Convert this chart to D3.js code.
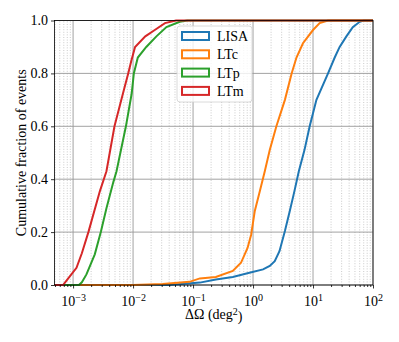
<!DOCTYPE html>
<html>
<head>
<meta charset="utf-8">
<script src="https://cdn.jsdelivr.net/npm/d3@7"></script>
<style>
  body { margin: 0; background: #fff; }
  svg text { font-family: "Liberation Serif", "Times New Roman", serif; }
</style>
</head>
<body>
<script>
let width = 399, height = 342
let margin = {left: 54.5, right: 26, top: 20.5, bottom: 57}

// cumulative fractions
let seriesNames = ['LISA', 'LTc', 'LTp', 'LTm']
let colors = ['#1f77b4', '#ff7f0e', '#2ca02c', '#d62728']

let lisaX = [0.04, 0.13, 0.24, 0.46, 0.87, 1.47, 1.9, 2.3, 2.76, 3.4, 4.1, 4.9, 5.8, 7.2, 8.8, 11.4, 17.8, 23, 27.8, 36, 46, 60, 70, 100]
let lisaY = [0, 0.009, 0.021, 0.03, 0.046, 0.059, 0.072, 0.09, 0.128, 0.204, 0.28, 0.355, 0.43, 0.51, 0.6, 0.7, 0.8, 0.86, 0.9, 0.94, 0.975, 0.995, 1, 1]

let ltcX = [0.01, 0.031, 0.087, 0.13, 0.24, 0.46, 0.63, 0.81, 0.93, 1.07, 1.3, 1.57, 1.9, 2.45, 3.4, 4.4, 5.3, 6.8, 10, 12.9, 17.8, 100]
let ltcY = [0, 0.004, 0.012, 0.025, 0.03, 0.053, 0.084, 0.14, 0.19, 0.28, 0.355, 0.43, 0.51, 0.6, 0.7, 0.8, 0.86, 0.914, 0.964, 0.99, 1, 1]

let ltpX = [0.00125, 0.0014, 0.00167, 0.0023, 0.0029, 0.0036, 0.0047, 0.0053, 0.0076, 0.0095, 0.0103, 0.012, 0.0166, 0.0245, 0.036, 0.06, 0.08, 100]
let ltpY = [0, 0.01, 0.04, 0.116, 0.2, 0.29, 0.39, 0.43, 0.6, 0.725, 0.8, 0.86, 0.9, 0.94, 0.975, 0.995, 1, 1]

let ltmX = [0.00068, 0.0008, 0.00114, 0.0014, 0.0018, 0.0028, 0.0036, 0.0049, 0.0068, 0.0083, 0.0094, 0.0108, 0.016, 0.023, 0.034, 0.052, 100]
let ltmY = [0, 0.02, 0.065, 0.12, 0.2, 0.355, 0.43, 0.6, 0.725, 0.8, 0.85, 0.9, 0.94, 0.964, 0.99, 1, 1]

let xTicks = [1e-3, 1e-2, 1e-1, 1, 10, 100]
let xExps = ['−3', '−2', '−1', '0', '1', '2']
let yTicks = [0, 0.2, 0.4, 0.6, 0.8, 1.0]

let seriesX = [lisaX, ltcX, ltpX, ltmX]
let seriesY = [lisaY, ltcY, ltpY, ltmY]

let fs = 14, fsSup = 10

let svg = d3.select('body').append('svg')
    .attr('width', width)
    .attr('height', height)

let x = d3.scaleLog().domain([4.9e-4, 100]).range([margin.left, width - margin.right])
let y = d3.scaleLinear().domain([0, 1]).range([height - margin.bottom, margin.top])

let minors = []
for (let e = -4; e < 2; e++) {
    for (let k = 2; k < 10; k++) {
        let v = k * Math.pow(10, e)
        if (v >= x.domain()[0] && v <= x.domain()[1]) minors.push(v)
    }
}

let grid = svg.append('g').attr('class', 'grid')
grid.selectAll('line.minor').data(minors).enter().append('line')
    .attr('x1', d => x(d)).attr('x2', d => x(d))
    .attr('y1', y(0)).attr('y2', y(1))
    .attr('stroke', '#a8a8a8').attr('stroke-width', 0.6)
    .attr('stroke-dasharray', '1,1.6')
grid.selectAll('line.xmaj').data(xTicks).enter().append('line')
    .attr('x1', d => x(d)).attr('x2', d => x(d))
    .attr('y1', y(0)).attr('y2', y(1))
    .attr('stroke', '#999').attr('stroke-width', 0.9)
grid.selectAll('line.ymaj').data(yTicks).enter().append('line')
    .attr('x1', x.range()[0]).attr('x2', x.range()[1])
    .attr('y1', d => y(d)).attr('y2', d => y(d))
    .attr('stroke', '#999').attr('stroke-width', 0.9)

svg.append('clipPath').attr('id', 'clip').append('rect')
    .attr('x', x.range()[0]).attr('y', y(1) - 2)
    .attr('width', x.range()[1] - x.range()[0]).attr('height', y(0) - y(1) + 4)

let line = d3.line()
    .x(d => x(d[0]))
    .y(d => y(d[1]))

let lines = svg.append('g').attr('clip-path', 'url(#clip)')
seriesNames.forEach((name, i) => {
    let pts = seriesX[i].map((v, j) => [v, seriesY[i][j]])
    pts.unshift([x.domain()[0], 0])
    lines.append('path')
        .datum(pts)
        .attr('d', line)
        .attr('fill', 'none')
        .attr('stroke', colors[i])
        .attr('stroke-width', 2)
})

// frame
svg.append('rect')
    .attr('x', x.range()[0]).attr('y', y(1))
    .attr('width', x.range()[1] - x.range()[0]).attr('height', y(0) - y(1))
    .attr('fill', 'none').attr('stroke', '#000').attr('stroke-width', 0.8)

let xAxis = svg.append('g')
    .attr('transform', `translate(0,${y(0)})`)
    .call(d3.axisBottom(x).tickValues(xTicks).tickSize(3.5).tickPadding(3).tickFormat(''))
xAxis.attr('font-family', null)
xAxis.select('.domain').remove()
xAxis.selectAll('text').each(function(d, i) {
    let t = d3.select(this)
    t.attr('font-size', fs).attr('fill', '#000').attr('dy', '1em')
    t.append('tspan').text('10')
    t.append('tspan').attr('dy', '-0.45em').attr('font-size', fsSup).text(xExps[i])
})
svg.append('g')
    .attr('transform', `translate(0,${y(0)})`)
    .call(d3.axisBottom(x).tickValues(minors).tickSize(2).tickFormat(''))
    .select('.domain').remove()

let yAxis = svg.append('g')
    .attr('transform', `translate(${x.range()[0]},0)`)
    .call(d3.axisLeft(y).tickValues(yTicks).tickSize(3.5).tickPadding(3).tickFormat(d3.format('.1f')))
yAxis.attr('font-family', null)
yAxis.select('.domain').remove()
yAxis.selectAll('text').attr('font-size', fs).attr('fill', '#000')
svg.selectAll('.tick line').attr('stroke-width', 0.8)

// axis labels
let xl = svg.append('text')
    .attr('x', (x.range()[0] + x.range()[1]) / 2)
    .attr('y', 319)
    .attr('text-anchor', 'middle')
    .attr('font-size', fs)
xl.append('tspan').text('ΔΩ (deg')
xl.append('tspan').attr('dy', '-0.45em').attr('font-size', fsSup).text('2')
xl.append('tspan').attr('dy', '0.45em').text(')')

svg.append('text')
    .attr('transform', `translate(21,${(y(0) + y(1)) / 2}) rotate(-90)`)
    .attr('text-anchor', 'middle')
    .attr('dy', '0.35em')
    .attr('font-size', fs)
    .text('Cumulative fraction of events')

// legend
let legend = svg.append('g').attr('transform', 'translate(177,26)')
legend.append('rect')
    .attr('width', 75).attr('height', 76).attr('rx', 3)
    .attr('fill', 'rgba(255,255,255,0.8)').attr('stroke', '#d0d0d0').attr('stroke-width', 0.8)
seriesNames.forEach((name, i) => {
    let row = legend.append('g').attr('transform', `translate(0,${10 + i * 18.3})`)
    row.append('rect')
        .attr('x', 5).attr('y', -4).attr('width', 27).attr('height', 8)
        .attr('fill', 'none').attr('stroke', colors[i]).attr('stroke-width', 2)
    row.append('text')
        .attr('x', 40).attr('dy', '0.35em')
        .attr('font-size', fs)
        .text(name)
})
</script>
</body>
</html>
